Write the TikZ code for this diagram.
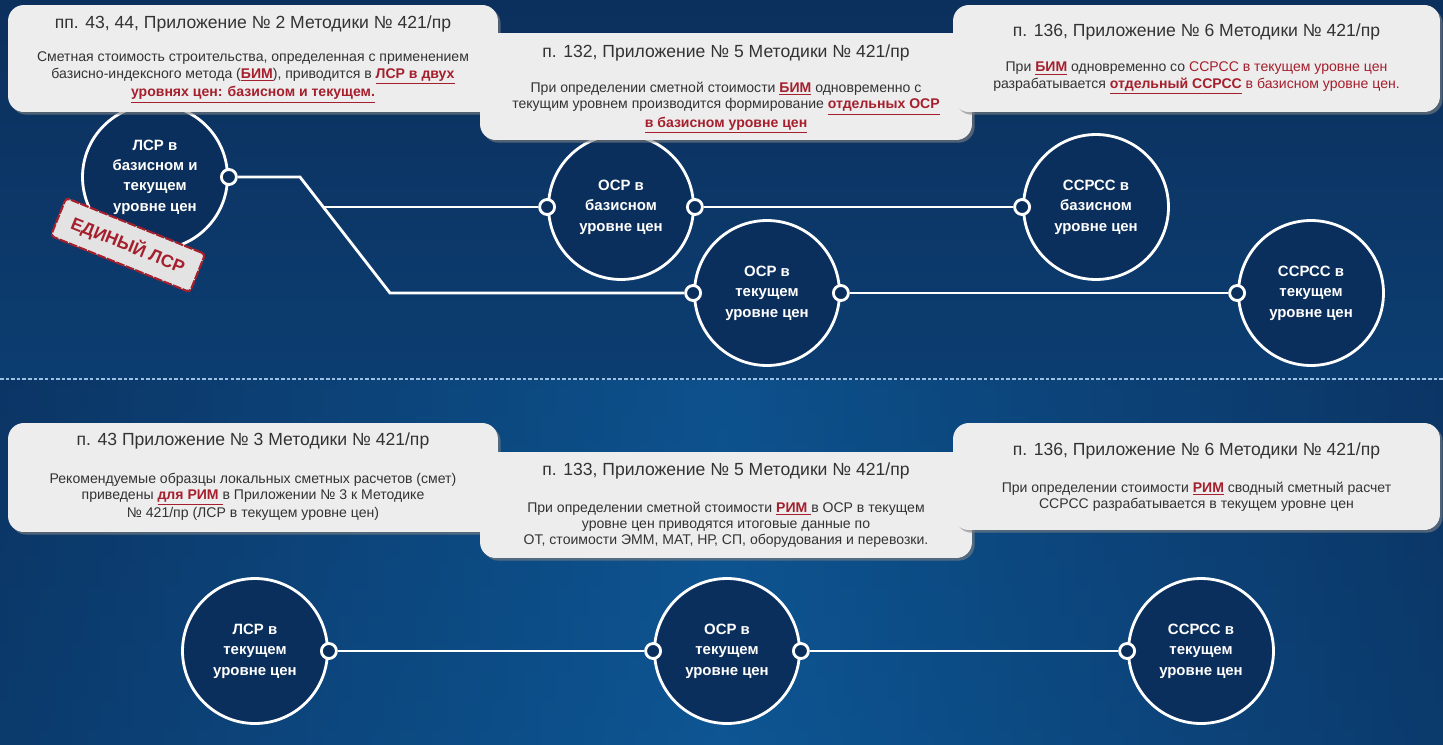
\documentclass[tikz,border=0pt]{standalone}
\usepackage{fontspec}
\setmainfont{Liberation Sans}
\usetikzlibrary{positioning,calc,shadows}
\definecolor{navy}{HTML}{0B2F5C}
\definecolor{bgtop}{HTML}{0C305D}
\definecolor{bgbot}{HTML}{0B4A84}
\definecolor{bgmid}{HTML}{0F5E9E}
\definecolor{boxgray}{HTML}{EDEDED}
\definecolor{txtgray}{HTML}{333333}
\definecolor{redh}{HTML}{A51F2D}
\definecolor{dashblue}{HTML}{9CC0E2}
\newcommand{\hl}[1]{\textcolor{redh}{\bfseries\underline{#1}}}
\newcommand{\rd}[1]{\textcolor{redh}{#1}}

\tikzset{
  stage/.style={circle, draw=white, line width=1.6pt, fill=navy, minimum size=2.9cm,
    inner sep=0pt, align=center, text=white, font=\fontsize{8.5}{11.6}\selectfont\bfseries},
  port/.style={circle, draw=white, line width=1.6pt, fill=navy, minimum size=0.3cm, inner sep=0pt},
  link/.style={white, line width=1.6pt},
  infobox/.style 2 args={rectangle, fill=boxgray, rounded corners=9pt, minimum width=#1,
    minimum height=#2, drop shadow={shadow xshift=1.5pt, shadow yshift=-1.5pt, opacity=0.6}},
  ttl/.style={text=txtgray, font=\fontsize{10}{12}\selectfont},
  body/.style={text=txtgray, align=center, font=\fontsize{8}{9.3}\selectfont},
  stamp/.style={rectangle, fill=gray!22, draw=redh, line width=1.2pt, dash pattern=on 5pt off 0.8pt,
    rounded corners=2pt, minimum width=3cm, minimum height=0.82cm, text=redh,
    font=\fontsize{10}{12}\selectfont\bfseries}
}

\begin{document}
\begin{tikzpicture}[x=0.02cm,y=-0.02cm]
  \useasboundingbox (0,0) rectangle (1443,744);
  % фон
  \shade[top color=bgtop, bottom color=bgbot] (0,0) rectangle (1443,744);
  \shade[left color=bgtop, right color=bgtop, middle color=bgmid, opacity=0.6] (0,380) rectangle (1443,744);
  \draw[dashblue, line width=0.6pt, dash pattern=on 2pt off 1.2pt] (0,379) -- (1443,379);

  % БИМ
  \node[stage] (lsr) at (155,177) {ЛСР в\\базисном и\\текущем\\уровне цен};
  \node[stage] (osrb) at (621,207) {ОСР в\\базисном\\уровне цен};
  \node[stage] (osrt) at (767,293) {ОСР в\\текущем\\уровне цен};
  \node[stage] (ssrb) at (1096,207) {ССРСС в\\базисном\\уровне цен};
  \node[stage] (ssrt) at (1311,293) {ССРСС в\\текущем\\уровне цен};
  \node[port] (lsrE) at (lsr.east) {};
  \node[port] (osrbW) at (osrb.west) {};
  \node[port] (osrbE) at (osrb.east) {};
  \node[port] (osrtW) at (osrt.west) {};
  \node[port] (osrtE) at (osrt.east) {};
  \node[port] (ssrbW) at (ssrb.west) {};
  \node[port] (ssrtW) at (ssrt.west) {};
  \coordinate (k1) at (300,177);
  \coordinate (k2) at (390,293);
  \coordinate (k3) at (323,207);
  \draw[link] (lsrE) -- (k1) -- (k2) -- (osrtW);
  \draw[link] (k3) -- (osrbW);
  \draw[link] (osrbE) -- (ssrbW);
  \draw[link] (osrtE) -- (ssrtW);
  \node[stamp, rotate=-22] (edin) at (128,245) {ЕДИНЫЙ ЛСР};

  % РИМ
  \node[stage] (lsr2) at (255,651) {ЛСР в\\текущем\\уровне цен};
  \node[stage] (osr2) at (727,651) {ОСР в\\текущем\\уровне цен};
  \node[stage] (ssr2) at (1201,651) {ССРСС в\\текущем\\уровне цен};
  \node[port] (lsr2E) at (lsr2.east) {};
  \node[port] (osr2W) at (osr2.west) {};
  \node[port] (osr2E) at (osr2.east) {};
  \node[port] (ssr2W) at (ssr2.west) {};
  \draw[link] (lsr2E) -- (osr2W);
  \draw[link] (osr2E) -- (ssr2W);

  % выноски
  \node[infobox={9.8cm}{2.14cm}] (bA) at (253,58.5) {};
  \node[ttl] (tA) at ($(bA.north)+(0,19)$) {пп. 43, 44, Приложение № 2 Методики № 421/пр};
  \node[body] (xA) at ($(bA.north)+(0,73)$) {Сметная стоимость строительства, определенная с применением\\
    базисно-индексного метода (\hl{БИМ}), приводится в \hl{ЛСР в двух}\\ \hl{уровнях цен: базисном и текущем.}};
  \node[infobox={9.84cm}{2.14cm}] (bB) at (726,86.5) {};
  \node[ttl] (tB) at ($(bB.north)+(0,20)$) {п. 132, Приложение № 5 Методики № 421/пр};
  \node[body] (xB) at ($(bB.north)+(0,75)$) {При определении сметной стоимости \hl{БИМ} одновременно с\\
    текущим уровнем производится формирование \hl{отдельных ОСР}\\ \hl{в базисном уровне цен}};
  \node[infobox={9.74cm}{2.14cm}] (bC) at (1196.5,58.5) {};
  \node[ttl] (tC) at ($(bC.north)+(0,27)$) {п. 136, Приложение № 6 Методики № 421/пр};
  \node[body] (xC) at ($(bC.north)+(0,73.5)$) {При \hl{БИМ} одновременно со \rd{ССРСС в текущем уровне цен}\\
    разрабатывается \hl{отдельный ССРСС} \rd{в базисном уровне цен.}};

  \node[infobox={9.8cm}{2.18cm}] (bD) at (253,477.5) {};
  \node[ttl] (tD) at ($(bD.north)+(0,18)$) {п. 43 Приложение № 3 Методики № 421/пр};
  \node[body] (xD) at ($(bD.north)+(0,74)$) {Рекомендуемые образцы локальных сметных расчетов (смет)\\
    приведены \hl{для РИМ }в Приложении № 3 к Методике\\ № 421/пр (ЛСР в текущем уровне цен)};
  \node[infobox={9.84cm}{2.12cm}] (bE) at (726,505) {};
  \node[ttl] (tE) at ($(bE.north)+(0,19)$) {п. 133, Приложение № 5 Методики № 421/пр};
  \node[body] (xE) at ($(bE.north)+(0,73)$) {При определении сметной стоимости \hl{РИМ }в ОСР в текущем\\
    уровне цен приводятся итоговые данные по\\ ОТ, стоимости ЭММ, МАТ, НР, СП, оборудования и перевозки.};
  \node[infobox={9.74cm}{2.14cm}] (bF) at (1196.5,476.5) {};
  \node[ttl] (tF) at ($(bF.north)+(0,28)$) {п. 136, Приложение № 6 Методики № 421/пр};
  \node[body] (xF) at ($(bF.north)+(0,74)$) {При определении стоимости \hl{РИМ} сводный сметный расчет\\
    ССРСС разрабатывается в текущем уровне цен};
\end{tikzpicture}
\end{document}
